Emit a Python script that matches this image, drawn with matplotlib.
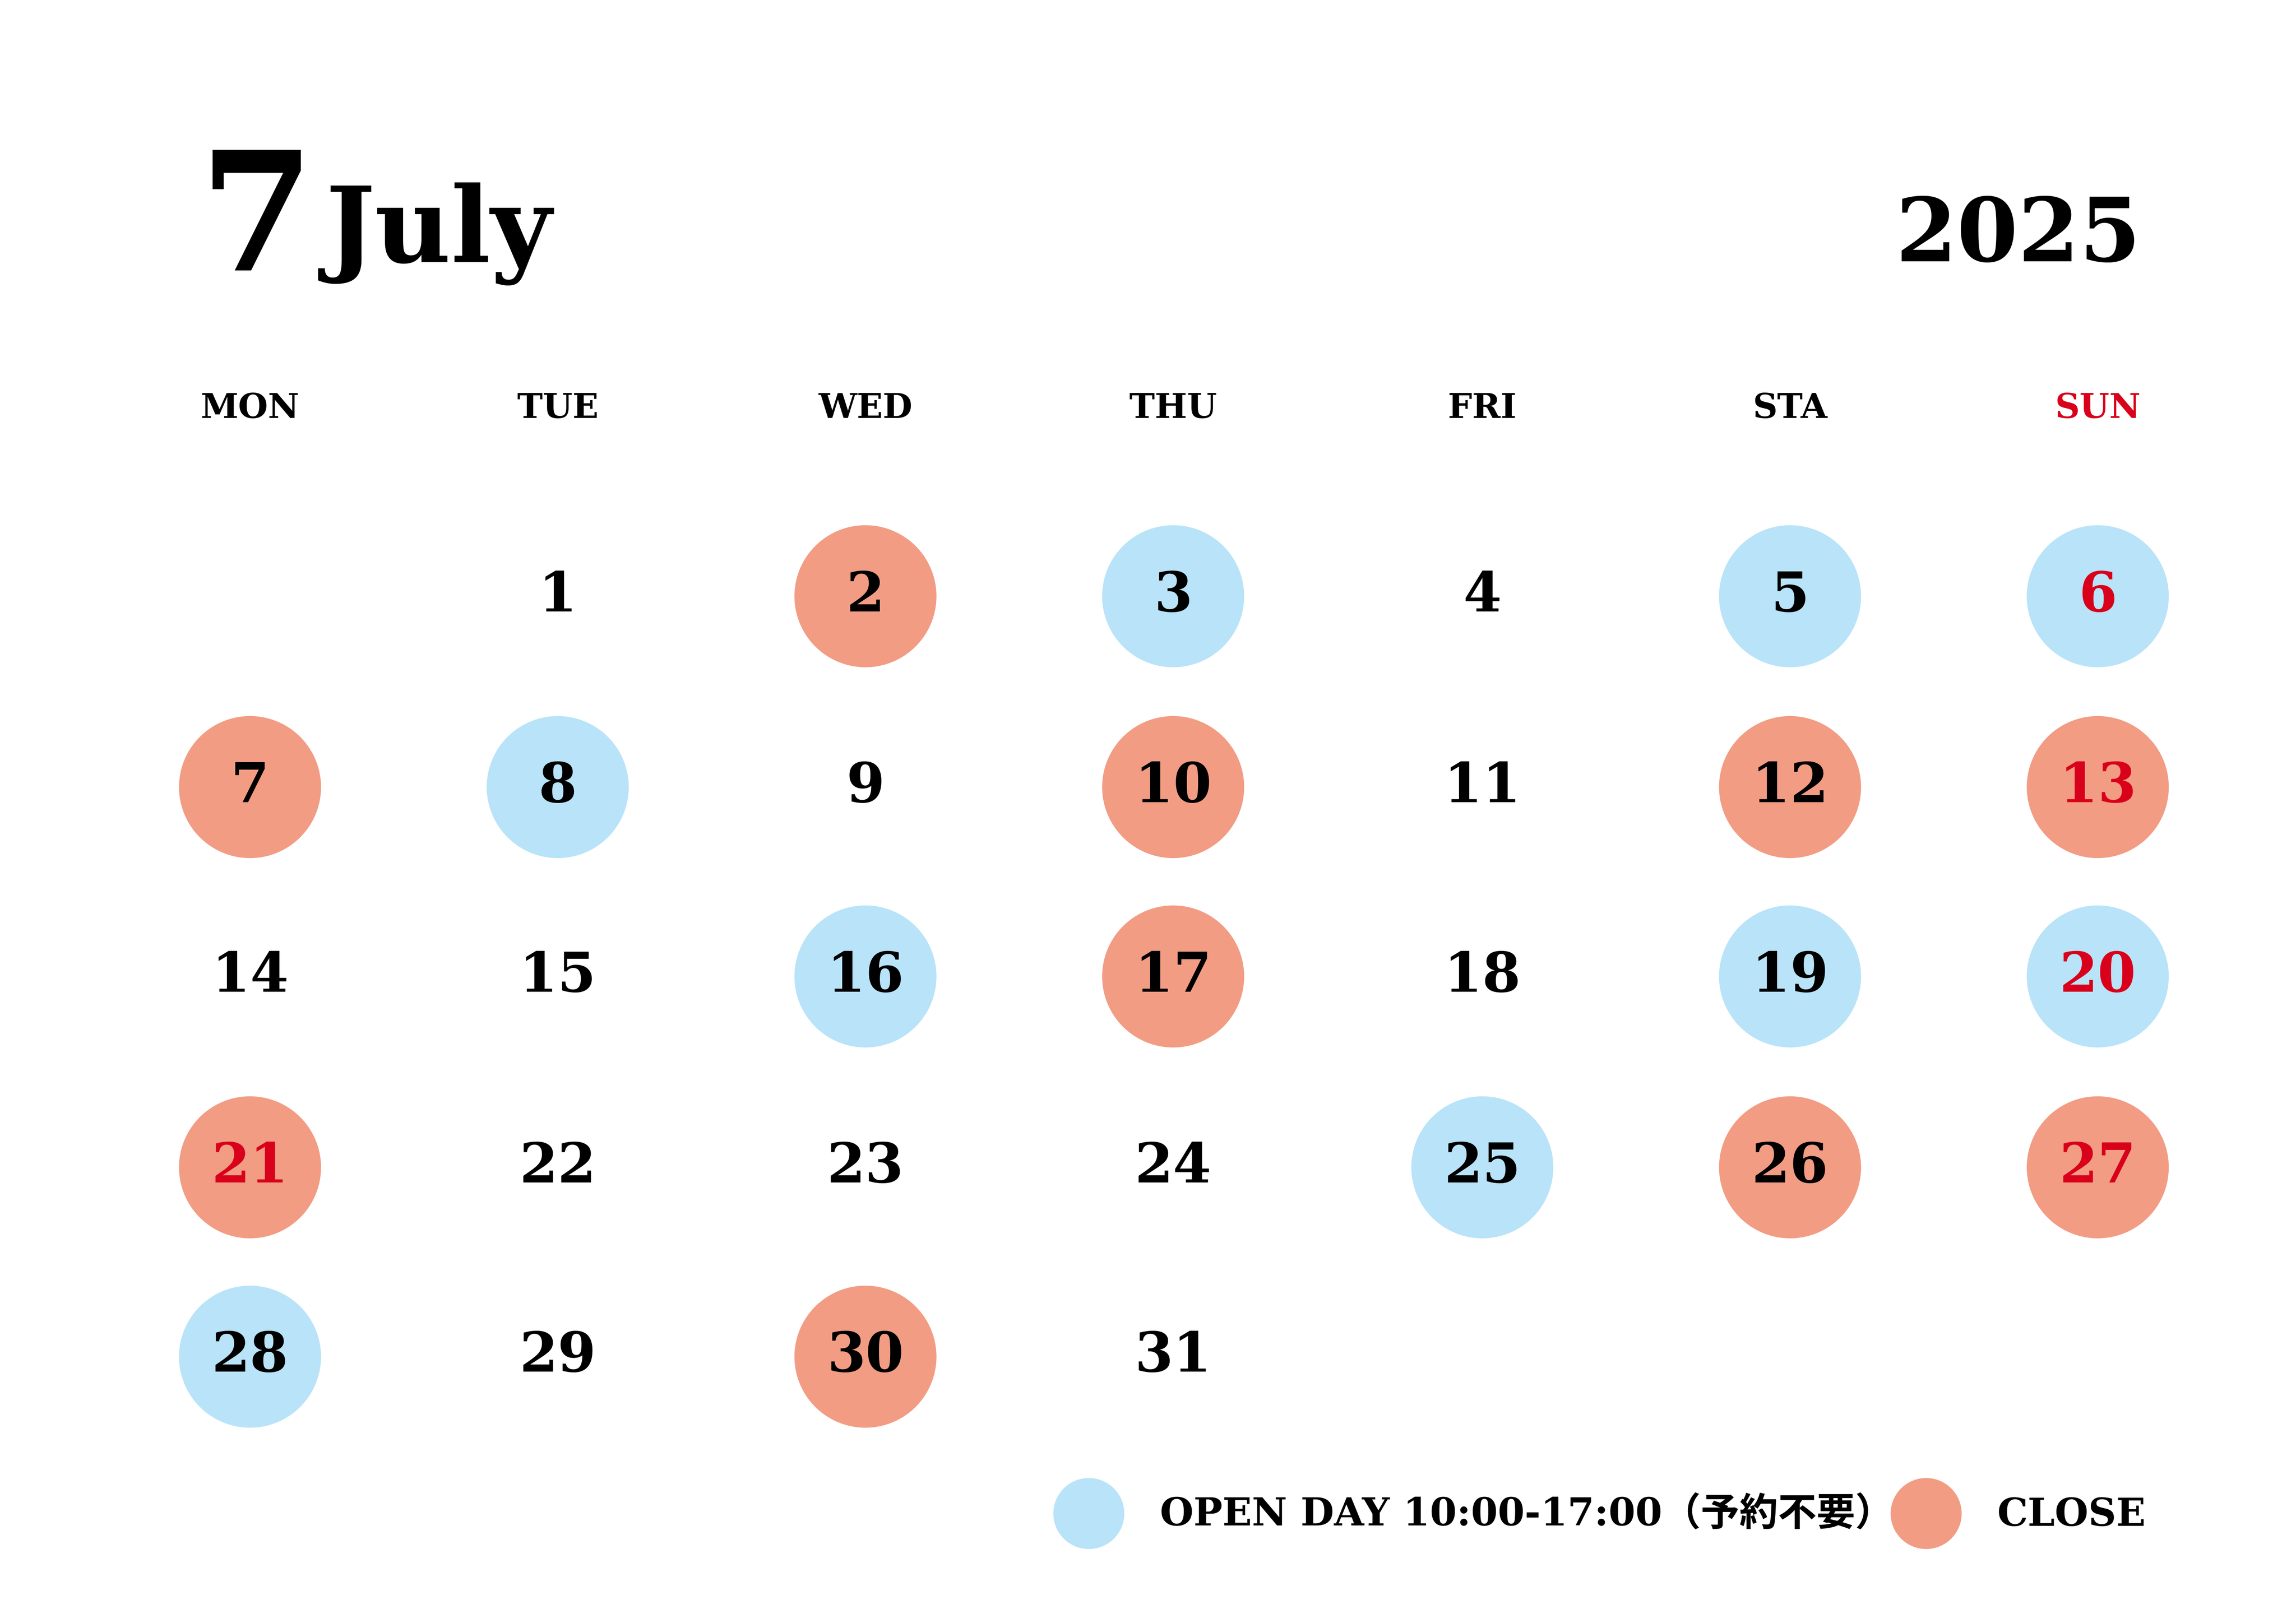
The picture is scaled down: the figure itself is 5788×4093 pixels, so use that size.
import matplotlib
matplotlib.use("Agg")
import matplotlib.pyplot as plt
from matplotlib.patches import Circle

weekdays = ["MON", "TUE", "WED", "THU", "FRI", "STA", "SUN"]
days = list(range(1, 32))
first_weekday = 1  # July 1 is Tuesday
open_days = [3, 5, 6, 8, 16, 19, 20, 25, 28]
close_days = [2, 7, 10, 12, 13, 17, 21, 26, 27, 30]
red_days = [6, 13, 20, 21, 27]

BLUE = "#b9e3f8"
SALMON = "#f29c84"
RED = "#d9001b"
W, H = 1552, 1097

fig = plt.figure(figsize=(57.88, 40.93), dpi=100)
ax = fig.add_axes([0, 0, 1, 1])
ax.set_xlim(0, W)
ax.set_ylim(H, 0)
ax.axis("off")

serif = "DejaVu Serif"
col_x = [169, 377, 585, 793, 1002, 1210, 1418]
row_y = [403, 532, 660, 789, 917]
R = 48

ax.text(135, 152, "7", fontsize=300, fontweight="bold", family=serif, va="center", ha="left")
ax.text(220, 158, "July", fontsize=190, fontweight="bold", family=serif, va="center", ha="left")
ax.text(1447, 160, "2025", fontsize=160, fontweight="bold", family=serif, va="center", ha="right")

for i, wd in enumerate(weekdays):
    ax.text(col_x[i], 276, wd, fontsize=62, fontweight="bold", family=serif, ha="center", va="center",
            color=RED if i == 6 else "black")

for d in days:
    idx = d - 1 + first_weekday
    r, c = divmod(idx, 7)
    x, y = col_x[c], row_y[r]
    if d in open_days:
        ax.add_patch(Circle((x, y), R, color=BLUE, lw=0))
    elif d in close_days:
        ax.add_patch(Circle((x, y), R, color=SALMON, lw=0))
    ax.text(x, y, str(d), fontsize=100, fontweight="bold", family=serif, ha="center", va="center",
            color=RED if d in red_days else "black")

ax.add_patch(Circle((736, 1023), 24, color=BLUE, lw=0))
ax.text(784, 1024, "OPEN DAY 10:00-17:00（予約不要）", fontsize=70, fontweight="bold",
        family=[serif, "Noto Sans CJK JP"], ha="left", va="center")
ax.add_patch(Circle((1302, 1023), 24, color=SALMON, lw=0))
ax.text(1350, 1024, "CLOSE", fontsize=70, fontweight="bold", family=serif, ha="left", va="center")

fig.savefig("out.png", dpi=100, facecolor="white")
